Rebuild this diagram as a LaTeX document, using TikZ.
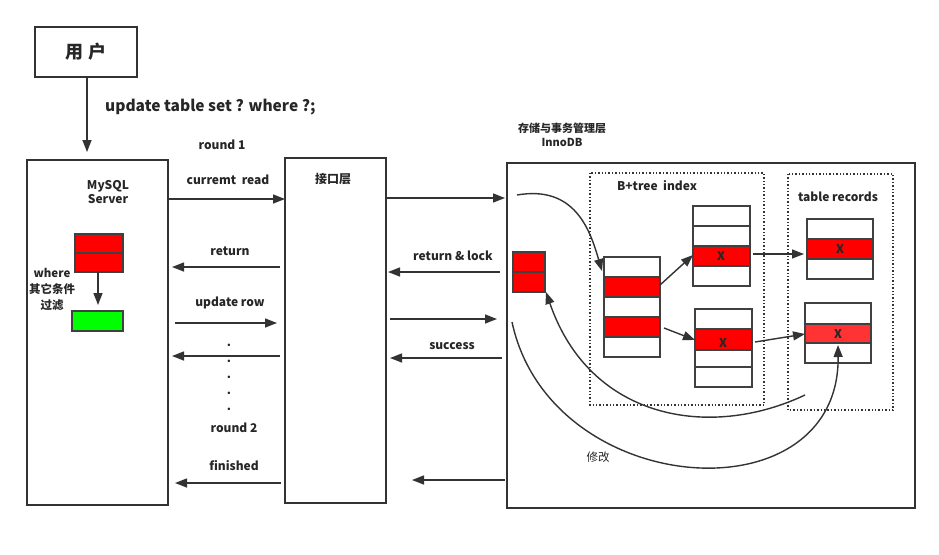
\documentclass[tikz,border=0pt]{standalone}
\usepackage{fontspec}
\setmainfont{Noto Sans CJK SC}
\usetikzlibrary{arrows.meta}
\begin{document}
\begin{tikzpicture}[x=1pt,y=-1pt,
  box/.style={draw=black!80,line width=1.5pt},
  cell/.style={draw=black!75,line width=1.4pt},
  dot/.style={draw=black!80,line width=1.4pt,dotted},
  arr/.style={draw=black!80,line width=1.4pt,-{Triangle[length=12pt,width=9pt]}},
  lbl/.style={font=\fontsize{12pt}{14pt}\selectfont\bfseries,text=black!85,align=center,inner sep=0pt}]
\useasboundingbox (0,0) rectangle (939,554);
% user
\draw[box] (35,27) rectangle (137,77);
\node[lbl,font=\fontsize{18pt}{20pt}\selectfont\bfseries] (user) at (86,52) {用 户};
\node[lbl,font=\fontsize{15.5pt}{17pt}\selectfont\bfseries,anchor=west] (sql) at (105,107) {update table set ? where ?;};
\coordinate (u1) at (87,77); \coordinate (u2) at (87,152);
\draw[arr] (u1) -- (u2);
% MySQL server
\draw[box] (27,160) rectangle (168,505);
\node[lbl] (ms) at (108,192) {MySQL\\Server};
\draw[cell,fill=red] (75,234) rectangle (123,253);
\draw[cell,fill=red] (75,253) rectangle (123,272);
\draw[cell,fill=green] (72,311) rectangle (123,331);
\coordinate (m1) at (98,272); \coordinate (m2) at (98,305);
\draw[arr] (m1) -- (m2);
\node[lbl,font=\fontsize{11.5pt}{16pt}\selectfont\bfseries] (wh) at (52,290) {where\\其它条件\\过滤};
% interface
\draw[box] (285,158) rectangle (386,503);
\node[lbl] (api) at (333,179) {接口层};
% InnoDB
\draw[box] (507,163) rectangle (915,508);
\node[lbl,font=\fontsize{11pt}{14pt}\selectfont\bfseries] (inno) at (562,135) {存储与事务管理层\\InnoDB};
% left arrows
\node[lbl] (r1) at (222,145) {round 1};
\node[lbl] (cr) at (228,180) {curremt\ \ read};
\coordinate (a1) at (168,199); \coordinate (a2) at (285,199); \draw[arr] (a1)--(a2);
\node[lbl] (ret) at (230,251) {return};
\coordinate (a3) at (280,267); \coordinate (a4) at (172,267); \draw[arr] (a3)--(a4);
\node[lbl] (ur) at (230,303) {update row};
\coordinate (a5) at (175,323); \coordinate (a6) at (277,323); \draw[arr] (a5)--(a6);
\foreach \yy in {345,361,377,393,409} \node[lbl] at (229,\yy) {.};
\coordinate (a7) at (280,356); \coordinate (a8) at (172,356); \draw[arr] (a7)--(a8);
\node[lbl] (r2) at (234,428) {round 2};
\node[lbl] (fin) at (234,466) {finished};
\coordinate (a9) at (281,483); \coordinate (a10) at (175,483); \draw[arr] (a9)--(a10);
% right arrows
\coordinate (b1) at (386,198); \coordinate (b2) at (505,198); \draw[arr] (b1)--(b2);
\node[lbl] (rl) at (453,256) {return \& lock};
\coordinate (b3) at (500,272); \coordinate (b4) at (388,272); \draw[arr] (b3)--(b4);
\coordinate (b5) at (390,319); \coordinate (b6) at (497,319); \draw[arr] (b5)--(b6);
\node[lbl] (suc) at (452,346) {success};
\coordinate (b7) at (502,358); \coordinate (b8) at (390,358); \draw[arr] (b7)--(b8);
\coordinate (b9) at (505,480); \coordinate (b10) at (412,480); \draw[arr] (b9)--(b10);
% dotted groups
\draw[dot] (590,173) rectangle (764,405);
\node[lbl] (bt) at (657,186) {B+tree\ \ index};
\draw[dot] (788,174) rectangle (893,410);
\node[lbl] (tr) at (838,197) {table records};
% red stack
\draw[cell,fill=red] (513,252) rectangle (545,272);
\draw[cell,fill=red] (513,272) rectangle (545,292);
% node1
\draw[cell] (604,257) rectangle (660,277);
\draw[cell,fill=red] (604,277) rectangle (660,297);
\draw[cell] (604,297) rectangle (660,317);
\draw[cell,fill=red] (604,317) rectangle (660,337);
\draw[cell] (604,337) rectangle (660,357);
% node2
\draw[cell] (693,206) rectangle (750,226);
\draw[cell] (693,226) rectangle (750,246);
\draw[cell,fill=red] (693,246) rectangle (750,266);
\draw[cell] (693,266) rectangle (750,286);
\node[lbl] (x1) at (721,256) {X};
% node3
\draw[cell] (695,309) rectangle (752,329);
\draw[cell,fill=red] (695,329) rectangle (752,350);
\draw[cell] (695,350) rectangle (752,367);
\draw[cell] (695,367) rectangle (752,387);
\node[lbl] (x2) at (723,343) {X};
% records
\draw[cell] (807,219) rectangle (873,239);
\draw[cell,fill=red] (807,239) rectangle (873,259);
\draw[cell] (807,259) rectangle (873,279);
\node[lbl] (x3) at (840,249) {X};
\draw[cell] (805,303) rectangle (871,324);
\draw[cell,fill={rgb,255:red,255;green,51;blue,51}] (805,324) rectangle (871,343);
\draw[cell] (805,343) rectangle (871,363);
\node[lbl] (x4) at (838,334) {X};
% inner arrows
\coordinate (c1) at (660,285); \coordinate (c2) at (693,255); \draw[arr] (c1)--(c2);
\coordinate (c3) at (664,328); \coordinate (c4) at (695,340); \draw[arr] (c3)--(c4);
\coordinate (c5) at (753,254); \coordinate (c6) at (804,254); \draw[arr] (c5)--(c6);
\coordinate (c7) at (755,342); \coordinate (c8) at (805,334); \draw[arr] (c7)--(c8);
% curves
\coordinate (d1) at (517,195); \coordinate (d2) at (602,271);
\draw[arr] (d1) .. controls (575,185) and (590,230) .. (d2);
\coordinate (d3) at (805,395); \coordinate (d4) at (546,292);
\draw[arr] (d3) .. controls (710,440) and (590,420) .. (d4);
\coordinate (d5) at (512,322); \coordinate (d6) at (838,345);
\draw[arr] (d5) .. controls (550,500) and (840,520) .. (d6);
\node[lbl,font=\fontsize{11.5pt}{14pt}\selectfont] (mod) at (598,457) {修改};
\end{tikzpicture}
\end{document}
